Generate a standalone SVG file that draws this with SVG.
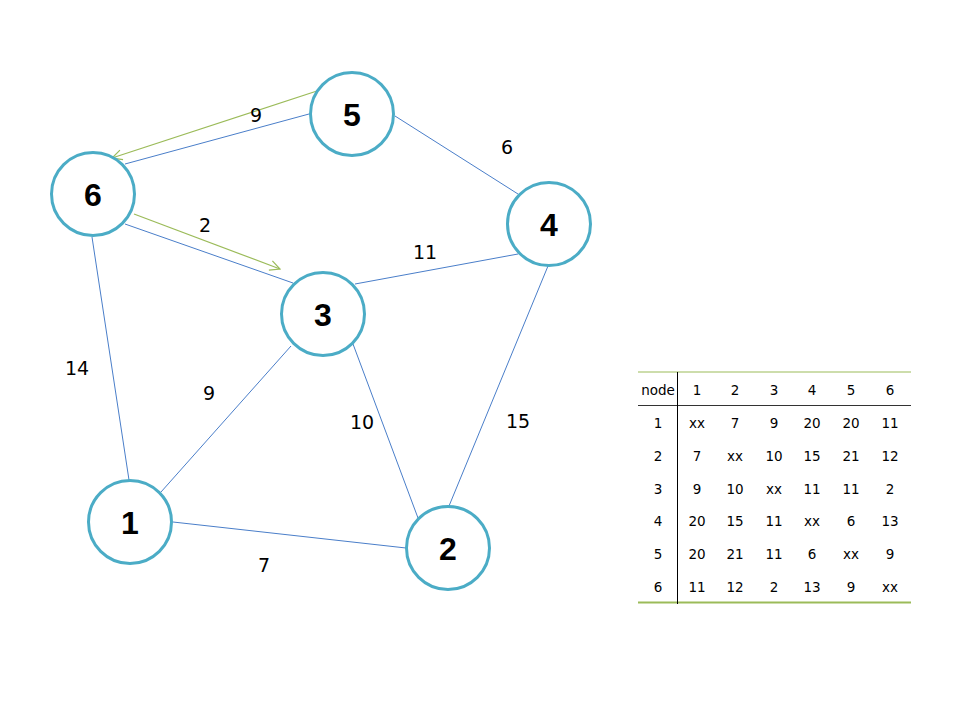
<svg xmlns="http://www.w3.org/2000/svg" width="960" height="720" viewBox="0 0 960 720">
<defs>
<style>
.edge{stroke:#4a7ec9;stroke-width:1;fill:none}
.arr{stroke:#9bbb59;stroke-width:1.2;fill:none}
.node circle{fill:#fff;stroke:#4bacc6;stroke-width:3}
.node text{font-family:"Liberation Sans",Arial,sans-serif;font-weight:bold;font-size:32px;fill:#000;text-anchor:middle}
.lbl{font-family:"DejaVu Sans","Liberation Sans",sans-serif;font-size:19px;fill:#000;text-anchor:middle}
.tb{font-family:"DejaVu Sans","Liberation Sans",sans-serif;font-size:13.5px;fill:#000;text-anchor:middle}
</style>
<marker id="open" viewBox="0 0 12 12" refX="11" refY="6" markerWidth="12" markerHeight="12" markerUnits="userSpaceOnUse" orient="auto">
<path d="M1,1 L11,6 L1,11" fill="none" stroke="#9bbb59" stroke-width="1.2"/>
</marker>
</defs>
<rect width="960" height="720" fill="#fff"/>
<g id="connectors">
<line class="edge" x1="125" y1="164" x2="309" y2="114"/>
<line class="edge" x1="125" y1="224" x2="293" y2="283"/>
<line class="edge" x1="92" y1="237" x2="129" y2="480"/>
<line class="edge" x1="161" y1="492" x2="291" y2="346"/>
<line class="edge" x1="173" y1="522" x2="406" y2="548"/>
<line class="edge" x1="353" y1="344" x2="418" y2="518"/>
<line class="edge" x1="548" y1="266" x2="449" y2="506"/>
<line class="edge" x1="355" y1="284" x2="518" y2="254"/>
<line class="edge" x1="395" y1="116" x2="518" y2="194"/>
<line class="arr" x1="323" y1="89" x2="112" y2="158" marker-end="url(#open)"/>
<line class="arr" x1="134" y1="214" x2="280" y2="269" marker-end="url(#open)"/>
</g>
<g id="edge-labels">
<text class="lbl" x="256" y="122">9</text>
<text class="lbl" x="507" y="154">6</text>
<text class="lbl" x="205" y="232">2</text>
<text class="lbl" x="425" y="259">11</text>
<text class="lbl" x="77" y="375">14</text>
<text class="lbl" x="209" y="400">9</text>
<text class="lbl" x="362" y="429">10</text>
<text class="lbl" x="518" y="428">15</text>
<text class="lbl" x="264" y="572">7</text>
</g>
<g id="node-1" class="node"><circle cx="130" cy="522" r="41.5"/><text x="130" y="534">1</text></g>
<g id="node-2" class="node"><circle cx="448" cy="548" r="41.5"/><text x="448" y="560">2</text></g>
<g id="node-3" class="node"><circle cx="323" cy="314" r="41.5"/><text x="323" y="326">3</text></g>
<g id="node-4" class="node"><circle cx="549" cy="224" r="41.5"/><text x="549" y="236">4</text></g>
<g id="node-5" class="node"><circle cx="352" cy="114" r="41.5"/><text x="352" y="126">5</text></g>
<g id="node-6" class="node"><circle cx="93" cy="194" r="41.5"/><text x="93" y="206">6</text></g>
<g id="table">
<line x1="638" y1="372" x2="911" y2="372" stroke="#9bbb59" stroke-width="1"/>
<line x1="638" y1="602.5" x2="911" y2="602.5" stroke="#9bbb59" stroke-width="2"/>
<line x1="638" y1="405.5" x2="911" y2="405.5" stroke="#333" stroke-width="1.2"/>
<line x1="677.5" y1="372" x2="677.5" y2="604" stroke="#000" stroke-width="1"/>
<g class="tb">
<text x="658" y="395">node</text><text x="697" y="395">1</text><text x="735" y="395">2</text><text x="774" y="395">3</text><text x="812" y="395">4</text><text x="851" y="395">5</text><text x="890" y="395">6</text>
<text x="658" y="428">1</text><text x="697" y="428">xx</text><text x="735" y="428">7</text><text x="774" y="428">9</text><text x="812" y="428">20</text><text x="851" y="428">20</text><text x="890" y="428">11</text>
<text x="658" y="461">2</text><text x="697" y="461">7</text><text x="735" y="461">xx</text><text x="774" y="461">10</text><text x="812" y="461">15</text><text x="851" y="461">21</text><text x="890" y="461">12</text>
<text x="658" y="494">3</text><text x="697" y="494">9</text><text x="735" y="494">10</text><text x="774" y="494">xx</text><text x="812" y="494">11</text><text x="851" y="494">11</text><text x="890" y="494">2</text>
<text x="658" y="526">4</text><text x="697" y="526">20</text><text x="735" y="526">15</text><text x="774" y="526">11</text><text x="812" y="526">xx</text><text x="851" y="526">6</text><text x="890" y="526">13</text>
<text x="658" y="559">5</text><text x="697" y="559">20</text><text x="735" y="559">21</text><text x="774" y="559">11</text><text x="812" y="559">6</text><text x="851" y="559">xx</text><text x="890" y="559">9</text>
<text x="658" y="592">6</text><text x="697" y="592">11</text><text x="735" y="592">12</text><text x="774" y="592">2</text><text x="812" y="592">13</text><text x="851" y="592">9</text><text x="890" y="592">xx</text>
</g>
</g>
</svg>
